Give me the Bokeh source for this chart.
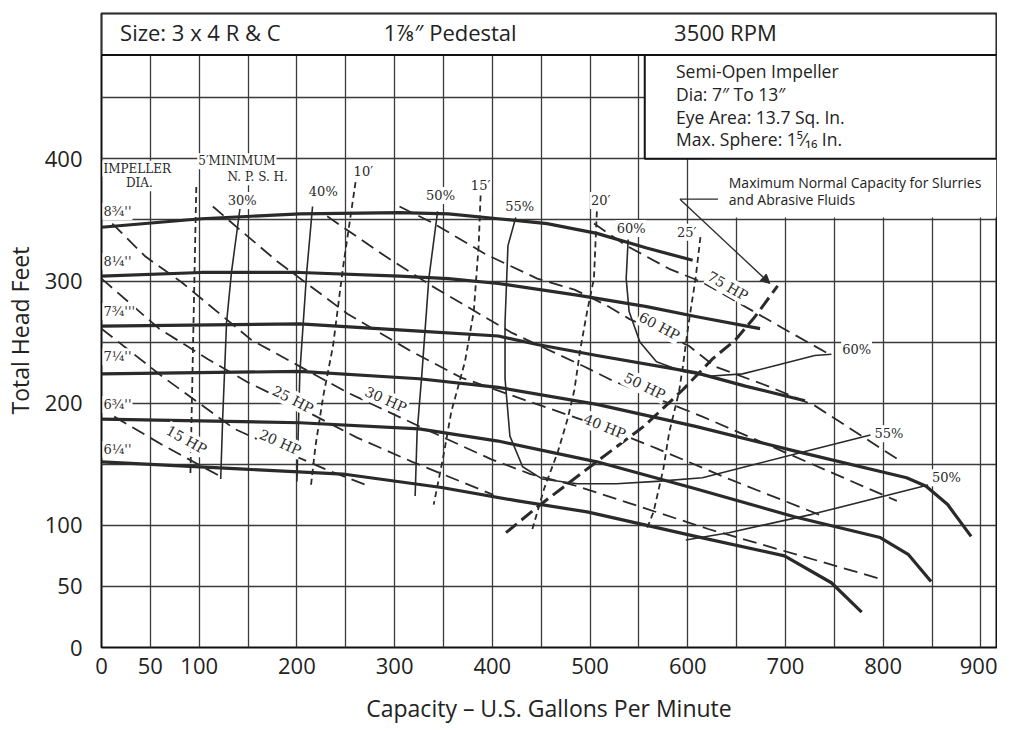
from bokeh.plotting import figure
from bokeh.models import FixedTicker, Arrow, NormalHead
from bokeh.core.properties import value
from bokeh.embed import file_html
from bokeh.resources import INLINE

# ---------------- data (capacity in US gpm, head in ft) ----------------
x_ticks = [0, 50, 100, 200, 300, 400, 500, 600, 700, 800, 900]
y_ticks = [0, 50, 100, 200, 300, 400]
x_grid = list(range(0, 901, 50))
y_grid = list(range(0, 451, 50))

# head-capacity curves per impeller diameter
imp_labels = ["8¾''", "8¼''", "7¾'''", "7¼''", "6¾''", "6¼''"]
imp_label_h = [357, 316, 275, 238, 199, 162]
q_875 = [0, 102, 203, 305, 355, 406, 456, 507, 558, 605]
h_875 = [344, 351, 355, 356, 355, 351, 347, 339, 327, 317]
q_825 = [0, 102, 203, 305, 355, 406, 490, 558, 608, 674]
h_825 = [304, 307, 307, 304, 302, 298, 288, 279, 271, 261]
q_775 = [0, 203, 325, 406, 446, 507, 608, 659, 720]
h_775 = [263, 265, 259, 255, 248, 239, 225, 214, 202]
q_725 = [0, 203, 325, 406, 507, 608, 709, 824, 844, 866, 890]
h_725 = [224, 226, 220, 213, 199, 181, 161, 139, 132, 117, 91]
q_675 = [0, 203, 325, 406, 507, 608, 709, 797, 826, 849]
h_675 = [187, 184, 179, 169, 152, 130, 107, 90, 76, 54]
q_625 = [0, 146, 247, 348, 426, 497, 608, 699, 747, 778]
h_625 = [152, 146, 142, 131, 120, 111, 91, 75, 53, 29]

# efficiency curves
q_e30 = [142, 133, 128, 124, 122]
h_e30 = [361, 307, 266, 187, 138]
q_e40 = [216, 210, 203, 200]
h_e40 = [361, 307, 225, 136]
q_e50 = [344, 335, 328, 323, 321]
h_e50 = [357, 302, 225, 176, 124]
q_e55 = [424, 416, 413, 413, 418, 431, 451, 487, 527, 568, 615, 669, 723, 787]
h_e55 = [352, 329, 266, 220, 173, 148, 138, 134, 134, 136, 139, 150, 161, 174]
q_e60 = [539, 537, 540, 551, 568, 595, 621, 656, 686, 730, 747]
h_e60 = [334, 302, 275, 250, 234, 226, 222, 224, 230, 239, 240]
q_e50r = [598, 642, 727, 846]
h_e50r = [88, 94, 109, 133]

# minimum NPSH lines
q_n5 = [97, 91]
h_n5 = [377, 142]
q_n10 = [260, 247, 237, 227, 219, 214]
h_n10 = [381, 310, 247, 206, 165, 130]
q_n15 = [388, 386, 381, 372, 358, 350, 340]
h_n15 = [370, 329, 275, 234, 193, 157, 117]
q_n20 = [507, 504, 497, 490, 484, 477, 467, 453, 441]
h_n20 = [357, 302, 275, 244, 211, 187, 160, 130, 97]
q_n25 = [613, 608, 601, 595, 591, 581, 575, 565, 558]
h_n25 = [336, 302, 266, 230, 209, 176, 146, 111, 97]

# horsepower lines
q_hp15 = [13, 62, 124]
h_hp15 = [189, 166, 139]
q_hp20 = [0, 62, 136, 183, 229, 274]
h_hp20 = [261, 222, 179, 162, 146, 132]
q_hp25 = [0, 59, 109, 150, 196, 261, 318, 401]
h_hp25 = [302, 261, 236, 217, 199, 172, 152, 125]
q_hp30 = [11, 45, 82, 153, 251, 328, 399, 439, 487, 621, 798]
h_hp30 = [347, 320, 299, 252, 209, 180, 154, 142, 132, 97, 56]
q_hp40 = [114, 146, 180, 252, 318, 368, 439, 515, 568, 642, 740]
h_hp40 = [361, 339, 316, 273, 242, 221, 201, 180, 163, 138, 107]
q_hp50 = [231, 291, 338, 419, 494, 524, 615, 696, 814]
h_hp50 = [353, 320, 296, 258, 230, 218, 189, 161, 120]
q_hp60 = [305, 338, 393, 446, 484, 517, 540, 601, 628, 682, 730, 819]
h_hp60 = [361, 348, 322, 302, 293, 280, 269, 247, 230, 214, 198, 152]
q_hp75 = [504, 537, 581, 615, 696, 745]
h_hp75 = [347, 329, 310, 299, 262, 240]

hp_labels = ["15 HP", "20 HP", "25 HP", "30 HP", "40 HP", "50 HP", "60 HP", "75 HP"]
hp_label_q = [87, 183, 196, 291, 515, 556, 571, 641]
hp_label_h = [170, 168, 203, 203, 181, 214, 263, 296]
hp_label_ang = [-29, -24, -27, -24, -22, -26, -28, -30]

# maximum normal capacity (slurries)
q_max = [414, 446, 510, 555, 595, 625, 649, 669, 692]
h_max = [94, 115, 154, 181, 211, 236, 252, 271, 296]
q_lead = [631, 592, 684]
h_lead = [367, 367, 298]

eff_labels = ["30%", "40%", "50%", "55%", "60%"]
eff_label_q = [144, 227, 347, 428, 542]
eff_label_h = [366, 373, 370, 361, 343]
eff_r_labels = ["60%", "55%", "50%"]
eff_r_q = [757, 790, 849]
eff_r_h = [244, 175, 139]
npsh_labels = ["10′", "15′", "20′", "25′"]
npsh_q = [268, 388, 511, 599]
npsh_h = [390, 378, 366, 340]

header_texts = ["Size: 3 x 4 R & C", "1⅞″ Pedestal", "3500 RPM"]
header_q = [19, 289, 586]
info_texts = ["Semi-Open Impeller", "Dia: 7″ To 13″", "Eye Area:  13.7 Sq. In.", "Max. Sphere: 1⁵⁄₁₆ In."]
info_h = [472, 453, 434, 416]
slurry_texts = ["Maximum Normal Capacity for Slurries", "and Abrasive Fluids"]
slurry_h = [381, 367]

# ---------------- figure ----------------
X_END, Y_END = 916, 519
p = figure(width=997, height=726, x_range=(0, X_END), y_range=(0, Y_END),
           output_backend="svg", toolbar_location=None,
           min_border_left=91, min_border_right=1, min_border_top=13, min_border_bottom=60,
           background_fill_color="white", border_fill_color="white")
p.outline_line_color = "#111111"
p.outline_line_width = 2

p.xaxis.ticker = FixedTicker(ticks=x_ticks)
p.yaxis.ticker = FixedTicker(ticks=y_ticks)
p.xgrid.ticker = FixedTicker(ticks=x_grid)
p.ygrid.ticker = FixedTicker(ticks=y_grid)
for g in (p.xgrid, p.ygrid):
    g.grid_line_color = "#3a3a3a"
    g.grid_line_width = 1.3
    g.grid_line_alpha = 1.0

for ax in (p.xaxis, p.yaxis):
    ax.axis_line_color = None
    ax.major_tick_line_color = None
    ax.minor_tick_line_color = None
    ax.major_tick_out = 0
    ax.major_tick_in = 0
    ax.minor_tick_out = 0
    ax.minor_tick_in = 0
    ax.major_label_text_font = "Open Sans"
    ax.major_label_text_font_size = "22px"
    ax.major_label_text_color = "#222222"
    ax.axis_label_text_font = "Open Sans"
    ax.axis_label_text_font_size = "23px"
    ax.axis_label_text_font_style = "normal"
    ax.axis_label_text_color = "#222222"
p.xaxis.axis_label = "Capacity – U.S. Gallons Per Minute"
p.yaxis.axis_label = "Total Head Feet"
p.xaxis.major_label_standoff = 10
p.xaxis.axis_label_standoff = 15
p.yaxis.major_label_standoff = 19
p.yaxis.axis_label_standoff = 6

# header and boxes (white patches over grid)
p.quad(left=0, right=X_END, bottom=485, top=Y_END, fill_color="white", line_color="#111111", line_width=2)
p.quad(left=620, right=X_END, bottom=352, top=400, fill_color="white", line_color=None)
p.quad(left=556, right=X_END, bottom=400, top=485, fill_color="white", line_color="#111111", line_width=2)

CUR = "#2a2a2a"
# impeller curves
for q, h in [(q_875, h_875), (q_825, h_825), (q_775, h_775), (q_725, h_725), (q_675, h_675), (q_625, h_625)]:
    p.line(q, h, line_color=CUR, line_width=3.2, line_join="round")

# efficiency curves
for q, h in [(q_e30, h_e30), (q_e40, h_e40), (q_e50, h_e50), (q_e55, h_e55), (q_e60, h_e60), (q_e50r, h_e50r)]:
    p.line(q, h, line_color=CUR, line_width=1.6, line_join="round")

# NPSH
for q, h in [(q_n5, h_n5), (q_n10, h_n10), (q_n15, h_n15), (q_n20, h_n20), (q_n25, h_n25)]:
    p.line(q, h, line_color=CUR, line_width=1.8, line_dash="6 4")

# HP lines
for q, h in [(q_hp15, h_hp15), (q_hp20, h_hp20), (q_hp25, h_hp25), (q_hp30, h_hp30),
             (q_hp40, h_hp40), (q_hp50, h_hp50), (q_hp60, h_hp60), (q_hp75, h_hp75)]:
    p.line(q, h, line_color=CUR, line_width=1.8, line_dash="14 7")

# max normal capacity line + leader
p.line(q_max, h_max, line_color=CUR, line_width=3, line_dash="14 6")
p.line(q_lead[:2], h_lead[:2], line_color=CUR, line_width=1.3)
p.add_layout(Arrow(end=NormalHead(size=9, fill_color=CUR, line_color=CUR),
                   x_start=q_lead[1], y_start=h_lead[1], x_end=q_lead[2], y_end=h_lead[2],
                   line_color=CUR, line_width=1.3))

SERIF = value("DejaVu Serif")
SANS = value("Open Sans")

# HP labels
p.text(hp_label_q, hp_label_h, text=hp_labels, angle=hp_label_ang, angle_units="deg",
       text_font=SERIF, text_font_size="14px", text_color=CUR,
       text_align="center", text_baseline="middle",
       background_fill_color="white", padding=1)

# efficiency labels
p.text(eff_label_q, eff_label_h, text=eff_labels, text_font=SERIF, text_font_size="13px",
       text_color=CUR, text_align="center", text_baseline="middle",
       background_fill_color="white", padding=1)
p.text(eff_r_q, eff_r_h, text=eff_r_labels, text_font=SERIF, text_font_size="13px",
       text_color=CUR, text_align="left", text_baseline="middle",
       background_fill_color="white", padding=1)

# NPSH labels
p.text(npsh_q, npsh_h, text=npsh_labels, text_font=SERIF, text_font_size="13px",
       text_color=CUR, text_align="center", text_baseline="middle",
       background_fill_color="white", padding=1)
p.text([98, 128], [398, 385], text=["5′MINIMUM", "N. P. S. H."], text_font=SERIF,
       text_font_size="12px", text_color=CUR, text_align="left", text_baseline="middle",
       background_fill_color="white", padding=1)

# impeller labels
p.text([1, 24], [392, 380], text=["IMPELLER", "DIA."], text_font=SERIF, text_font_size="12px",
       text_color=CUR, text_align="left", text_baseline="middle",
       background_fill_color="white", padding=1)
p.text([1] * len(imp_labels), imp_label_h, text=imp_labels, text_font=SERIF, text_font_size="13px",
       text_color=CUR, text_align="left", text_baseline="middle",
       background_fill_color="white", padding=1)

# header / info texts
p.text(header_q, [504] * 3, text=header_texts, text_font=SANS, text_font_size="22px",
       text_color="#222222", text_align="left", text_baseline="middle")
p.text([588] * 4, info_h, text=info_texts, text_font=SANS, text_font_size="17.5px",
       text_color="#222222", text_align="left", text_baseline="middle")
p.text([642] * 2, slurry_h, text=slurry_texts, text_font=SANS, text_font_size="14px",
       text_color="#222222", text_align="left", text_baseline="middle")

open("out.html", "w").write(file_html(p, INLINE))
